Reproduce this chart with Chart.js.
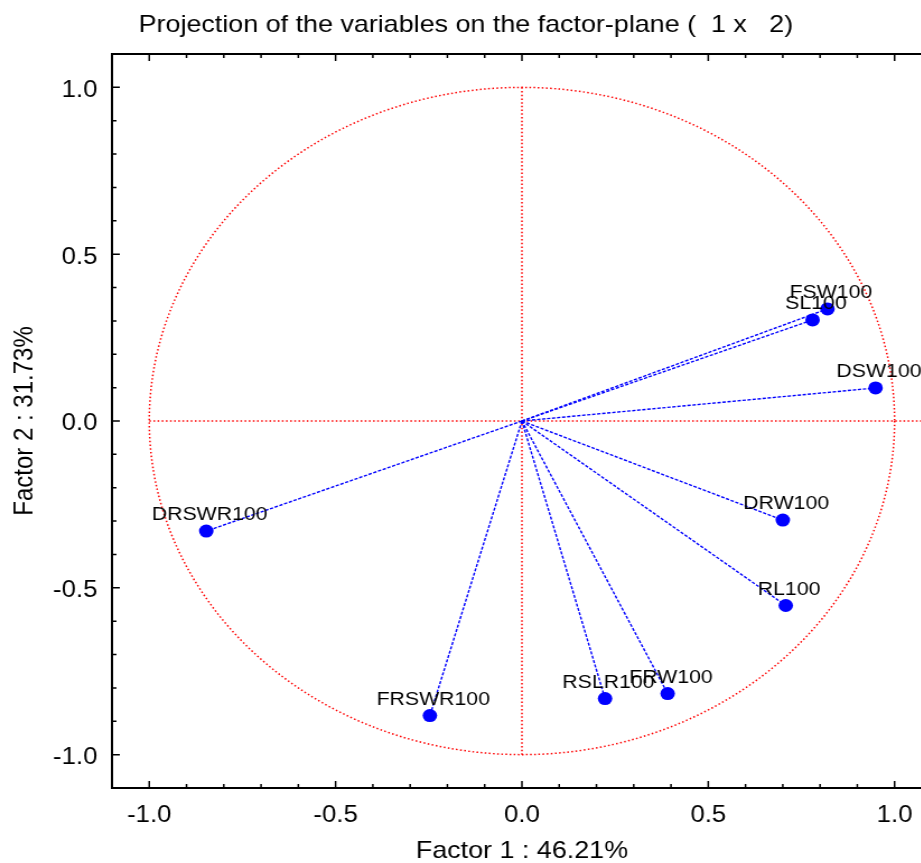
<!DOCTYPE html>
<html>
<head>
<meta charset="utf-8">
<title>Projection of the variables on the factor-plane</title>
<script src="https://cdn.jsdelivr.net/npm/chart.js@4.4.1/dist/chart.umd.min.js"></script>
<style>
  html, body { margin: 0; padding: 0; background: #fff; overflow: hidden; }
  /* el original esta estirado en horizontal (~1.12) */
  #contenedor { width: 840px; height: 863px; transform: scaleX(1.12); transform-origin: 0 0; }
  #grafico { display: block; }
</style>
</head>
<body>
<div id="contenedor">
<canvas id="grafico" width="840" height="863"></canvas>
</div>
<script>
// datos
const variables = ["FSW100", "SL100", "DSW100", "DRW100", "RL100", "FRW100", "RSLR100", "FRSWR100", "DRSWR100"];
const factor1 = [0.820, 0.780, 0.949, 0.700, 0.708, 0.391, 0.223, -0.247, -0.847];
const factor2 = [0.336, 0.303, 0.099, -0.297, -0.553, -0.817, -0.832, -0.883, -0.330];
const marcasX = [-1.0, -0.5, 0.0, 0.5, 1.0];
const marcasY = [-1.0, -0.5, 0.0, 0.5, 1.0];

const fuente = "'Liberation Sans', Arial, sans-serif";

// circulo de correlaciones, ejes y vectores (debajo de los puntos)
const fondo = {
  id: "fondo",
  beforeDatasetsDraw(chart) {
    const { ctx } = chart;
    const x = chart.scales.x, y = chart.scales.y;
    const cx = x.getPixelForValue(0), cy = y.getPixelForValue(0);
    const rx = x.getPixelForValue(1) - cx;
    const ry = cy - y.getPixelForValue(1);
    ctx.save();
    ctx.strokeStyle = "#ff0000";
    ctx.lineWidth = 1.5;
    ctx.setLineDash([1.5, 2.2]);
    ctx.beginPath();
    ctx.ellipse(cx, cy, rx, ry, 0, 0, Math.PI * 2);
    ctx.stroke();
    ctx.beginPath();
    ctx.moveTo(x.getPixelForValue(-1), cy);
    ctx.lineTo(x.getPixelForValue(1.1), cy);
    ctx.moveTo(cx, y.getPixelForValue(1));
    ctx.lineTo(cx, y.getPixelForValue(-1));
    ctx.stroke();

    // vectores desde el origen
    ctx.strokeStyle = "#0000ff";
    ctx.lineWidth = 1.4;
    ctx.setLineDash([3, 1.5]);
    factor1.forEach((v, i) => {
      ctx.beginPath();
      ctx.moveTo(cx, cy);
      ctx.lineTo(x.getPixelForValue(v), y.getPixelForValue(factor2[i]));
      ctx.stroke();
    });
    ctx.restore();
  },
  afterDatasetsDraw(chart) {
    const { ctx, chartArea } = chart;
    const x = chart.scales.x, y = chart.scales.y;
    ctx.save();
    // etiquetas de las variables
    ctx.fillStyle = "#000";
    ctx.font = "19px " + fuente;
    ctx.textAlign = "center";
    ctx.textBaseline = "middle";
    variables.forEach((nombre, i) => {
      ctx.fillText(nombre, x.getPixelForValue(factor1[i]) + 3, y.getPixelForValue(factor2[i]) - 16);
    });

    // marco
    ctx.strokeStyle = "#000";
    ctx.lineWidth = 2;
    ctx.strokeRect(chartArea.left, chartArea.top, chartArea.right - chartArea.left, chartArea.bottom - chartArea.top);

    // marcas hacia adentro cada 0.1
    ctx.lineWidth = 1.5;
    ctx.beginPath();
    for (let k = -11; k <= 11; k++) {
      const v = k / 10;
      const largo = (k % 5 === 0) ? 7 : 4;
      const px = x.getPixelForValue(v);
      ctx.moveTo(px, chartArea.bottom);
      ctx.lineTo(px, chartArea.bottom - largo);
      ctx.moveTo(px, chartArea.top);
      ctx.lineTo(px, chartArea.top + largo);
      const py = y.getPixelForValue(v);
      ctx.moveTo(chartArea.left, py);
      ctx.lineTo(chartArea.left + largo, py);
    }
    ctx.stroke();
    ctx.restore();
  }
};

new Chart(document.getElementById("grafico").getContext("2d"), {
  type: "scatter",
  data: {
    datasets: [{
      label: "Variables",
      data: factor1.map((v, i) => ({ x: v, y: factor2[i] })),
      backgroundColor: "#0000ff",
      borderWidth: 0,
      pointRadius: 6.5
    }]
  },
  options: {
    responsive: false,
    animation: false,
    layout: { padding: { left: 0, right: 8, top: 0, bottom: 0 } },
    plugins: {
      legend: { display: false },
      tooltip: { enabled: false },
      title: {
        display: true,
        text: "Projection of the variables on the factor-plane (  1 x   2)",
        color: "#000",
        font: { size: 24, family: fuente, weight: "normal", lineHeight: 1.2 },
        padding: { top: 11, bottom: 14.2 }
      }
    },
    scales: {
      x: {
        type: "linear",
        min: -1.1,
        max: 1.1,
        grid: { display: false, drawTicks: false },
        border: { display: false },
        afterBuildTicks: s => { s.ticks = marcasX.map(v => ({ value: v })); },
        afterFit: s => { s.height = 75; },
        ticks: { padding: 14, color: "#000", font: { size: 23, family: fuente }, callback: v => v.toFixed(1) },
        title: { display: true, text: "Factor 1 : 46.21%", color: "#000", font: { size: 24, family: fuente, lineHeight: 1 }, padding: { top: 0, bottom: 0 } }
      },
      y: {
        type: "linear",
        min: -1.1,
        max: 1.1,
        grid: { display: false, drawTicks: false },
        border: { display: false },
        afterBuildTicks: s => { s.ticks = marcasY.map(v => ({ value: v })); },
        afterFit: s => { s.width = 100; },
        ticks: { padding: 13, labelOffset: 3, color: "#000", font: { size: 23, family: fuente }, callback: v => v.toFixed(1) },
        title: { display: true, text: "Factor 2 : 31.73%", color: "#000", font: { size: 24, family: fuente, lineHeight: 1.2 }, padding: { top: 8, bottom: 0 } }
      }
    }
  },
  plugins: [fondo]
});
</script>
</body>
</html>
